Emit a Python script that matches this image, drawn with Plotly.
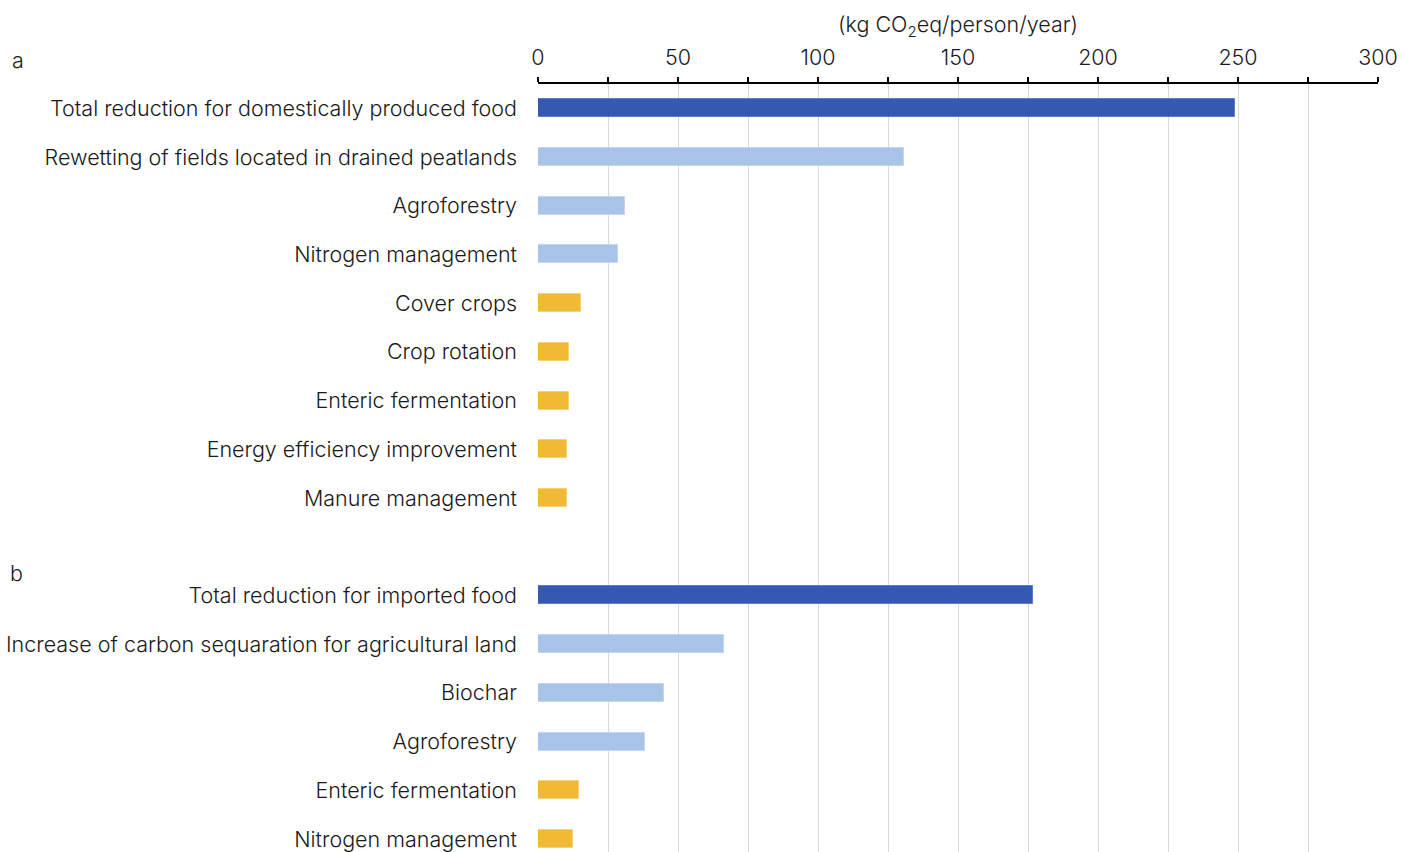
import plotly.graph_objects as go

# Section a: domestically produced food
labels_a = [
    "Total reduction for domestically produced food",
    "Rewetting of fields located in drained peatlands",
    "Agroforestry",
    "Nitrogen management",
    "Cover crops",
    "Crop rotation",
    "Enteric fermentation",
    "Energy efficiency improvement",
    "Manure management",
]
values_a = [249.0, 130.8, 31.0, 28.5, 15.4, 11.2, 11.2, 10.5, 10.4]
groups_a = ["total", "major", "major", "major", "minor", "minor", "minor", "minor", "minor"]

# Section b: imported food
labels_b = [
    "Total reduction for imported food",
    "Increase of carbon sequaration for agricultural land",
    "Biochar",
    "Agroforestry",
    "Enteric fermentation",
    "Nitrogen management",
]
values_b = [176.8, 66.3, 45.1, 38.2, 14.5, 12.5]
groups_b = ["total", "major", "major", "major", "minor", "minor"]

fill = {"total": "#3558B3", "major": "#A8C5E9", "minor": "#F0BA36"}
edge = {"total": "#5C7CC8", "major": "#C3D7F0", "minor": "#F6D27A"}

# one blank row separates the two sections
pos_a = list(range(len(labels_a)))
pos_b = [len(labels_a) + 1 + i for i in range(len(labels_b))]

labels = labels_a + labels_b
values = values_a + values_b
groups = groups_a + groups_b
positions = pos_a + pos_b

fig = go.Figure()
for g in ["total", "major", "minor"]:
    idx = [i for i, gg in enumerate(groups) if gg == g]
    fig.add_trace(go.Bar(
        x=[values[i] for i in idx],
        y=[positions[i] for i in idx],
        orientation="h",
        width=0.37,
        marker=dict(color=fill[g], line=dict(color=edge[g], width=1)),
        showlegend=False,
        hoverinfo="x+y",
    ))

font_family = "Inter, Roboto, sans-serif"
text_color = "#1a1a1a"
txt = dict(family=font_family, size=21.5, color=text_color, weight=300)

W, H = 1402, 852
L, R, T, B = 538, 24, 84, 0
plot_w, plot_h = W - L - R, H - T - B


def px_to_paper(px, py):
    return (px - L) / plot_w, (H - B - py) / plot_h


ax, ay = px_to_paper(10, 60)
bx, by = px_to_paper(8, 573)

fig.update_layout(
    width=W,
    height=H,
    margin=dict(l=L, r=R, t=T, b=B),
    paper_bgcolor="white",
    plot_bgcolor="white",
    font=txt,
    bargap=0,
    xaxis=dict(
        side="top",
        range=[0, 300],
        tick0=0,
        dtick=50,
        ticks="outside",
        ticklen=5,
        tickwidth=1.5,
        tickcolor="#000000",
        minor=dict(dtick=25, ticks="outside", ticklen=5, tickwidth=1.5,
                   tickcolor="#000000", showgrid=True, gridcolor="#D9D9D9", gridwidth=1),
        showline=True,
        linecolor="#000000",
        linewidth=1.5,
        showgrid=True,
        gridcolor="#D9D9D9",
        gridwidth=1,
        zeroline=False,
        ticklabelstandoff=4,
        tickfont=txt,
        title=dict(text="(kg CO<sub>2</sub>eq/person/year)", font=txt, standoff=5),
        fixedrange=True,
    ),
    yaxis=dict(
        range=[15.267, -0.5],
        tickvals=positions,
        ticktext=labels,
        showgrid=False,
        zeroline=False,
        showline=False,
        ticks="",
        ticklabelstandoff=20,
        tickfont=txt,
        fixedrange=True,
    ),
    annotations=[
        dict(text="a", x=ax, y=ay, xref="paper", yref="paper",
             xanchor="left", yanchor="middle", showarrow=False, font=txt),
        dict(text="b", x=bx, y=by, xref="paper", yref="paper",
             xanchor="left", yanchor="middle", showarrow=False, font=txt),
    ],
)

fig.write_html("out.html")
